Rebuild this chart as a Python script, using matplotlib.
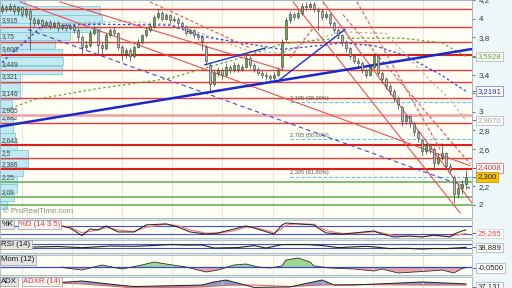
import numpy as np
import matplotlib
matplotlib.use('Agg')
import matplotlib.pyplot as plt
from matplotlib.patches import Rectangle
from matplotlib.transforms import blended_transform_factory as blend

plt.rcParams['font.family'] = ['Liberation Sans', 'DejaVu Sans']

W, H = 512, 288

# ---- daily candles ----
opens = [4.08, 4.12, 4.10, 4.14, 4.08, 4.12, 4.05, 4.08, 4.00, 3.95,
         3.98, 3.93, 3.96, 3.92, 3.95, 3.90, 3.93, 3.90, 3.92, 3.88,
         3.80, 3.70, 3.72, 3.85, 3.88, 3.72, 3.68, 3.82, 3.88, 3.85,
         3.70, 3.62, 3.66, 3.60, 3.70, 3.75, 3.82, 3.88, 3.92, 4.02,
         4.06, 4.00, 4.04, 3.98, 4.00, 3.95, 3.92, 3.85, 3.88, 3.82,
         3.80, 3.70, 3.50, 3.30, 3.42, 3.45, 3.40, 3.48, 3.45, 3.50,
         3.46, 3.48, 3.58, 3.50, 3.46, 3.42, 3.40, 3.38, 3.36, 3.40,
         3.48, 3.78, 3.98, 4.05, 4.02, 4.06, 4.14, 4.12, 4.16, 4.10,
         4.08, 4.02, 4.05, 3.95, 3.88, 3.82, 3.75, 3.68, 3.60, 3.55,
         3.52, 3.45, 3.40, 3.48, 3.60, 3.42, 3.35, 3.28, 3.22, 3.15,
         3.05, 2.90, 2.95, 2.88, 2.78, 2.70, 2.58, 2.64, 2.60, 2.45,
         2.52, 2.56, 2.42, 2.30, 2.12, 2.18, 2.22]
closes = [4.12, 4.10, 4.14, 4.08, 4.12, 4.05, 4.10, 4.00, 3.95, 3.98,
          3.93, 3.96, 3.92, 3.95, 3.90, 3.93, 3.90, 3.92, 3.88, 3.80,
          3.70, 3.72, 3.85, 3.88, 3.72, 3.68, 3.82, 3.88, 3.85, 3.70,
          3.62, 3.66, 3.60, 3.70, 3.75, 3.82, 3.88, 3.92, 4.02, 4.06,
          4.00, 4.04, 3.98, 4.00, 3.95, 3.92, 3.85, 3.88, 3.82, 3.80,
          3.76, 3.55, 3.30, 3.42, 3.45, 3.40, 3.48, 3.45, 3.50, 3.46,
          3.48, 3.58, 3.50, 3.46, 3.42, 3.40, 3.38, 3.36, 3.40, 3.45,
          3.75, 3.98, 4.05, 4.02, 4.06, 4.14, 4.12, 4.16, 4.10, 4.08,
          4.02, 4.05, 3.95, 3.88, 3.82, 3.75, 3.68, 3.60, 3.55, 3.52,
          3.45, 3.40, 3.48, 3.60, 3.42, 3.35, 3.28, 3.22, 3.15, 3.08,
          2.90, 2.95, 2.88, 2.78, 2.72, 2.58, 2.64, 2.60, 2.45, 2.52,
          2.56, 2.42, 2.38, 2.12, 2.18, 2.22, 2.30]
highs = [4.16, 4.15, 4.17, 4.16, 4.14, 4.13, 4.12, 4.10, 4.02, 4.01,
         4.00, 3.98, 3.98, 3.97, 3.97, 3.95, 3.95, 3.94, 3.94, 3.90,
         3.82, 3.76, 3.88, 3.92, 3.89, 3.75, 3.85, 3.90, 3.91, 3.86,
         3.72, 3.69, 3.68, 3.72, 3.78, 3.84, 3.90, 3.95, 4.04, 4.10,
         4.08, 4.06, 4.05, 4.03, 4.02, 3.97, 3.93, 3.90, 3.89, 3.85,
         3.82, 3.72, 3.52, 3.45, 3.48, 3.47, 3.52, 3.50, 3.53, 3.52,
         3.51, 3.62, 3.60, 3.52, 3.48, 3.45, 3.43, 3.41, 3.43, 3.48,
         3.78, 4.02, 4.08, 4.07, 4.09, 4.17, 4.18, 4.18, 4.18, 4.12,
         4.10, 4.08, 4.06, 3.97, 3.90, 3.84, 3.77, 3.70, 3.62, 3.58,
         3.54, 3.47, 3.51, 3.63, 3.61, 3.44, 3.37, 3.30, 3.24, 3.17,
         3.06, 2.98, 2.97, 2.90, 2.80, 2.72, 2.67, 2.66, 2.62, 2.56,
         2.66, 2.57, 2.45, 2.32, 2.24, 2.27, 2.37]
lows = [4.06, 4.07, 4.08, 4.05, 4.04, 4.02, 4.02, 3.66, 3.92, 3.93,
        3.90, 3.91, 3.89, 3.90, 3.87, 3.88, 3.87, 3.88, 3.85, 3.76,
        3.62, 3.66, 3.70, 3.82, 3.62, 3.60, 3.66, 3.80, 3.82, 3.66,
        3.56, 3.58, 3.55, 3.58, 3.68, 3.73, 3.80, 3.86, 3.90, 4.00,
        3.97, 3.98, 3.95, 3.96, 3.92, 3.89, 3.82, 3.83, 3.79, 3.77,
        3.66, 3.50, 3.20, 3.28, 3.38, 3.35, 3.38, 3.42, 3.43, 3.43,
        3.44, 3.47, 3.47, 3.43, 3.39, 3.36, 3.34, 3.33, 3.34, 3.38,
        3.46, 3.76, 3.95, 3.99, 4.00, 4.04, 4.09, 4.10, 4.07, 3.88,
        3.99, 4.00, 3.92, 3.85, 3.79, 3.71, 3.64, 3.57, 3.52, 3.48,
        3.42, 3.36, 3.38, 3.46, 3.39, 3.31, 3.25, 3.18, 3.11, 3.03,
        2.85, 2.87, 2.84, 2.74, 2.68, 2.54, 2.55, 2.56, 2.40, 2.43,
        2.48, 2.39, 2.34, 2.02, 2.08, 2.12, 2.17]

# moving averages (sampled along the candle index)
ma_blue_idx = [0, 10, 24, 42, 50, 60, 70, 77, 85, 93, 101, 110, 116]
ma_blue = [3.53, 3.92, 3.94, 3.93, 3.81, 3.74, 3.67, 3.70, 3.74, 3.71, 3.60, 3.39, 3.2191]
ma_green_idx = [1, 8, 24, 42, 59, 70, 84, 100, 110, 116]
ma_green = [3.02, 3.13, 3.25, 3.36, 3.57, 3.73, 3.79, 3.79, 3.74, 3.5928]
ma_gray_idx = [6, 14, 30, 42, 50, 62, 70, 77, 85, 96, 104, 112, 116]
ma_gray = [3.81, 3.95, 3.97, 3.94, 3.84, 3.65, 3.63, 3.76, 3.86, 3.84, 3.47, 3.13, 2.907]

# volume profile (left)
vp_levels = [4.155, 4.065, 3.975, 3.885, 3.795, 3.705, 3.615, 3.525, 3.435, 3.345,
             3.255, 3.165, 3.075, 2.985, 2.895, 2.805, 2.715, 2.625, 2.535, 2.445,
             2.355, 2.265, 2.175, 2.085, 1.995]
vp_vol = [25, 100, 102, 100, 70, 55, 62, 63, 62, 20, 20, 20, 12, 13, 13, 13, 15, 17,
          28, 28, 23, 17, 17, 14, 7]
vp_labels = [3.915, 3.75, 3.608, 3.449, 3.321, 3.146, 2.965, 2.882, 2.643, 2.5, 2.386, 2.25, 2.09]

# horizontal levels
red_levels = [4.105, 3.915, 3.75, 3.449, 3.321, 3.146, 2.882, 2.5]
red_thick = [3.608, 2.643, 2.386]
pink_levels = [2.965]
green_levels = [2.25, 2.09, 2.0]
fib_levels = [3.105, 2.705, 2.305]
fib_names = ['3,105 (38,20%)', '2,705 (50,00%)', '2,305 (61,80%)']
fib_start = 72

# trend lines: ((idx, price), (idx, price))
blue_thick = [(-0.5, 2.842), (117.5, 3.674)]
blue_thin = [[(69.5, 3.347), (85.75, 3.884)], [(50.75, 3.505), (65.75, 3.684)]]
blue_dashed = [(6.5, 3.884), (117, 2.179)]
red_solid = [[(72.75, 4.18), (114.5, 1.916)], [(80.25, 4.18), (117.5, 2.021)],
             [(14.5, 4.18), (70.75, 3.442)], [(4.5, 4.18), (117, 2.421)]]
red_dashed = [[(85.25, 4.042), (117, 2.442)], [(88.75, 4.18), (109.5, 2.6)],
              [(37, 4.18), (62, 3.684)], [(72, 3.579), (77.75, 3.895)]]

grid_idx = [5, 17.5, 30, 42.5, 55, 67.75, 80.25, 92.75, 105.25]
price_ticks = [2.0, 2.2, 2.4, 2.6, 2.8, 3.0, 3.2, 3.4, 3.6, 3.8, 4.0, 4.2]
hidden_ticks = [2.4, 3.2, 3.6]   # covered by the last-value boxes

# indicators
k_idx = [15, 17, 20, 22, 24, 26, 29, 33, 36, 41, 44, 47, 51, 54, 58, 61, 63, 67, 68,
         70, 71, 74, 78, 79, 81, 85, 88, 93, 95, 98, 102, 105, 108, 112, 113, 115, 116]
k_val = [79, 64, 10, 57, 50, 79, 36, 36, 86, 93, 71, 36, 21, 29, 57, 79, 64, 29, 21,
         86, 100, 93, 86, 64, 29, 21, 29, 43, 21, 0, 7, 0, 14, 0, 21, 43, 50]
d_val = [75, 70, 30, 40, 52, 68, 50, 38, 70, 92, 80, 50, 28, 26, 45, 70, 70, 40, 28,
         60, 85, 95, 90, 75, 45, 25, 25, 38, 30, 10, 6, 4, 10, 6, 12, 20, 25.265]
rsi_idx = [8, 14, 20, 24, 27, 33, 38, 42, 46, 50, 53, 59, 63, 66, 70, 76, 80, 84, 88,
           91, 94, 97, 101, 105, 108, 111, 116]
rsi_val = [43, 48, 36, 45, 53, 50, 58, 67, 62, 63, 33, 37, 57, 33, 67, 67, 58, 37, 44,
           50, 40, 27, 30, 23, 28, 27, 38.889]
mom_idx = [15, 16, 20, 23, 25, 30, 35, 38, 41, 46, 51, 54, 58, 61, 64, 67, 70, 71, 74,
           77, 78, 82, 88, 93, 95, 99, 103, 107, 110, 113, 115, 116]
mom_val = [0.0, -0.07, -0.21, 0.0, 0.14, -0.14, 0.14, 0.35, 0.21, 0.0, -0.35, -0.21,
           0.14, 0.21, 0.0, -0.07, 0.07, 0.49, 0.63, 0.35, 0.07, -0.07, -0.14, -0.28,
           -0.14, -0.42, -0.35, -0.28, -0.21, -0.42, -0.1, -0.05]
adx_idx = [14, 20, 29, 33, 50, 53, 56, 63, 72, 80, 83, 88, 105, 116]
adx_val = [47, 50.8, 41.5, 38, 41.5, 48.5, 53, 36, 37, 53, 41.5, 41.5, 48.5, 44]
adxr_val = [46, 44, 38, 34.6, 37, 39, 41, 41.5, 38, 41.5, 42, 42.7, 41.5, 41.5]

XLIM = (-0.5, 117.5)
YLIM = (1.86, 4.177)
BG = '#fefef4'
EDGE = '#a3b8c3'

fig = plt.figure(figsize=(W / 100, H / 100), dpi=100)
fig.patch.set_facecolor('#dde7eb')
fig.add_artist(Rectangle((472 / W, 0), 40 / W, 1, transform=fig.transFigure,
                         fc='#eef8fb', ec='none', zorder=-5))


def px_axes(x0, y0, x1, y1):
    return fig.add_axes([x0 / W, 1 - y1 / H, (x1 - x0) / W, (y1 - y0) / H])


def clean(a):
    a.set_xticks([])
    a.set_yticks([])
    for s in a.spines.values():
        s.set_color(EDGE)
        s.set_linewidth(0.6)


def side_box(a, y, txt, fc='white', ec='#b8b8b8', color='#222222', ls='-'):
    tr = blend(a.transAxes, a.transData)
    a.plot([1.0, 1.007], [y, y], transform=tr, color='#555555', lw=0.6, clip_on=False)
    a.text(1.012, y, txt, transform=tr, fontsize=5.6, color=color, va='center', ha='left',
           clip_on=False, zorder=20,
           bbox=dict(boxstyle='square,pad=0.18', fc=fc, ec=ec, lw=0.6, ls=ls))


def panel_label(a, parts):
    x = 0.003
    for txt, col, fc in parts:
        t = a.text(x, 0.93, txt, transform=a.transAxes, fontsize=5.6, color=col,
                   va='top', ha='left', zorder=20,
                   bbox=dict(boxstyle='square,pad=0.15', fc=fc, ec='#9a9a9a', lw=0.5))
        fig.canvas.draw()
        bb = t.get_window_extent().transformed(a.transAxes.inverted())
        x = bb.x1 + 0.012


# ---- volume profile behind the price panel ----
ax_vp = px_axes(0, 0, 472, 218)
ax_vp.set_facecolor(BG)
for g in grid_idx:
    ax_vp.axvline(2 + 4 * g, color='#e2e2d2', lw=0.6, zorder=0)
ax_vp.barh(vp_levels, vp_vol, height=0.088, left=0, color='#c2e9f2',
           edgecolor='#80cbd9', lw=0.6, zorder=1)
for v in vp_labels:
    ax_vp.text(2, v + 0.004, f'{v:g}'.replace('.', ','), fontsize=4.8,
               color='#404040', va='bottom', ha='left', zorder=2)
ax_vp.set_xlim(0, 472)
ax_vp.set_ylim(YLIM)
clean(ax_vp)

# ---- price panel ----
ax = px_axes(0, 0, 472, 218)
ax.patch.set_alpha(0)
ax.set_xlim(XLIM)
ax.set_ylim(YLIM)

for v in red_levels:
    ax.axhline(v, color='#e63c3c', lw=1.0, zorder=2)
for v in red_thick:
    ax.axhline(v, color='#dc2020', lw=1.5, zorder=2)
for v in pink_levels:
    ax.axhline(v, color='#f0a4a4', lw=1.9, zorder=2)
for v in green_levels:
    ax.axhline(v, color='#5aac4e', lw=1.1, zorder=2)

ax.hlines(fib_levels, fib_start, XLIM[1], colors='#55c4ef', linestyles=(0, (3, 2)),
          lw=0.8, zorder=3)
for v, name in zip(fib_levels, fib_names):
    ax.text(fib_start, v + 0.012, name, fontsize=4.1, color='#555555', va='bottom', zorder=3)

ax.plot(ma_gray_idx, ma_gray, color='#b5b5b5', lw=0.9, ls=(0, (2, 2)), zorder=3)
ax.plot(ma_green_idx, ma_green, color='#5aa83a', lw=0.9, ls=(0, (2, 2)), zorder=3)
ax.plot(ma_blue_idx, ma_blue, color='#3342e0', lw=0.9, ls=(0, (2, 2)), zorder=3)

for seg in red_solid:
    (x0, y0), (x1, y1) = seg
    ax.plot([x0, x1], [y0, y1], color='#e85050', lw=0.8, zorder=3)
for seg in red_dashed:
    (x0, y0), (x1, y1) = seg
    ax.plot([x0, x1], [y0, y1], color='#e85050', lw=0.8, ls=(0, (3, 2)), zorder=3)
(x0, y0), (x1, y1) = blue_dashed
ax.plot([x0, x1], [y0, y1], color='#4848d8', lw=0.8, ls=(0, (4, 3)), zorder=3)
for seg in blue_thin:
    (x0, y0), (x1, y1) = seg
    ax.plot([x0, x1], [y0, y1], color='#2030e0', lw=1.0, zorder=4)
(x0, y0), (x1, y1) = blue_thick
ax.plot([x0, x1], [y0, y1], color='#1a28d0', lw=1.8, zorder=4)

idx = np.arange(len(closes))
o = np.array(opens)
c = np.array(closes)
cols = np.where(c >= o, '#62ad4c', '#b4b4b4')
ax.vlines(idx, lows, highs, color='#3c3c3c', lw=0.5, zorder=5)
ax.bar(idx, np.maximum(np.abs(c - o), 0.006), bottom=np.minimum(o, c), width=0.62,
       color=cols, edgecolor='#3c3c3c', lw=0.4, zorder=6)

ax.yaxis.tick_right()
ax.set_yticks(price_ticks)
ax.set_yticklabels(['' if v in hidden_ticks else f'{v:g}'.replace('.', ',')
                    for v in price_ticks])
ax.tick_params(axis='y', labelsize=5.8, length=2, pad=3, colors='#444444',
               labelcolor='#333333', width=0.5)
ax.set_xticks([])
for s in ax.spines.values():
    s.set_color(EDGE)
    s.set_linewidth(0.6)

side_box(ax, 3.5928, '3,5928', color='#55a030')
side_box(ax, 3.2191, '3,2191', color='#3030d0', ec='#8a8ad0')
side_box(ax, 2.907, '2,9070', color='#a0a0a0')
side_box(ax, 2.4008, '2,4008', color='#e03030', ec='#e07070')
side_box(ax, 2.30, '2,300', fc='#f6c400', ec='#c89800', color='#222222')

ax.text(0.006, 0.012, '\u00a9 ProRealTime.com', transform=ax.transAxes, fontsize=5.6,
        color='#8a8a8a', va='bottom', ha='left', zorder=7)

# ---- stochastic ----
axk = px_axes(0, 220, 472, 238)
axk.set_facecolor(BG)
axk.set_xlim(XLIM)
axk.set_ylim(-7, 121)
for g in grid_idx:
    axk.axvline(g, color='#e2e2d2', lw=0.6)
axk.axhline(80, color='#4050d8', lw=0.8)
axk.axhline(20, color='#4050d8', lw=0.8)
axk.plot(k_idx, d_val, color='#f08080', lw=0.9)
axk.plot(k_idx, k_val, color='#202020', lw=0.7)
clean(axk)
panel_label(axk, [('%K', '#111111', '#e4e4e4'), ('%D (14 3 5)', '#e04040', '#f4f4f4')])
side_box(axk, 25.265, '25,265', color='#e04848', ec='#a0a0a0', ls=':')

# ---- RSI ----
axr = px_axes(0, 240, 472, 253)
axr.set_facecolor(BG)
axr.set_xlim(XLIM)
axr.set_ylim(-17, 113)
for g in grid_idx:
    axr.axvline(g, color='#e2e2d2', lw=0.6)
axr.axhline(70, color='#4050d8', lw=0.8)
axr.axhline(30, color='#4050d8', lw=0.8)
axr.plot(rsi_idx, rsi_val, color='#202020', lw=0.8)
clean(axr)
panel_label(axr, [('RSI (14)', '#111111', '#e4e4e4')])
side_box(axr, 38.889, '38,889')

# ---- momentum ----
axm = px_axes(0, 255, 472, 275)
axm.set_facecolor(BG)
axm.set_xlim(XLIM)
axm.set_ylim(-0.56, 0.84)
for g in grid_idx:
    axm.axvline(g, color='#e2e2d2', lw=0.6)
mv = np.array(mom_val)
axm.fill_between(mom_idx, mv, 0, where=mv >= 0, interpolate=True, color='#9fd68e', lw=0)
axm.fill_between(mom_idx, mv, 0, where=mv <= 0, interpolate=True, color='#eaa6a6', lw=0)
axm.axhline(0, color='#3a48d8', lw=0.9)
axm.plot(mom_idx, mom_val, color='#303030', lw=0.6)
clean(axm)
panel_label(axm, [('Mom (12)', '#111111', '#e4e4e4')])
side_box(axm, -0.05, '-0,0500')

# ---- ADX ----
axa = px_axes(0, 277, 472, 295)
axa.set_facecolor(BG)
axa.set_xlim(XLIM)
axa.set_ylim(18.5, 60)
for g in grid_idx:
    axa.axvline(g, color='#e2e2d2', lw=0.6)
av = np.array(adx_val)
rv = np.array(adxr_val)
axa.fill_between(adx_idx, av, rv, where=av >= rv, interpolate=True, color='#8e9ccc', lw=0)
axa.plot(adx_idx, adxr_val, color='#e86060', lw=0.8)
axa.plot(adx_idx, adx_val, color='#202020', lw=0.7)
clean(axa)
panel_label(axa, [('ADX', '#111111', '#e4e4e4'), ('ADXR (14)', '#e04040', '#f4f4f4')])
side_box(axa, 37.131, '37,131')

fig.savefig('out.png', dpi=100, facecolor=fig.get_facecolor())
